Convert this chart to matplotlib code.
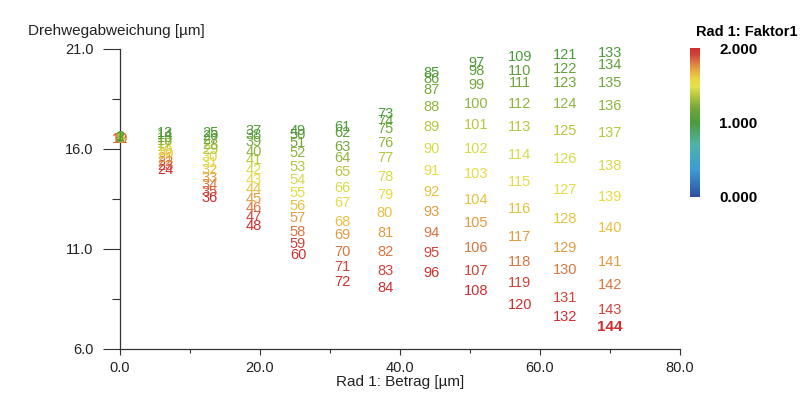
import numpy as np
import matplotlib
matplotlib.use("Agg")
import matplotlib.pyplot as plt
from matplotlib.colors import LinearSegmentedColormap, Normalize
from matplotlib.cm import ScalarMappable

plt.rcParams['font.family'] = ['Liberation Sans', 'DejaVu Sans']

# x position (Rad 1: Betrag) of each column of 12 points
col_x = [0.0, 6.43, 12.86, 19.14, 25.43, 31.71, 37.86, 44.57, 50.86, 57.14, 63.57, 70.0]

# Drehwegabweichung per column, top (first number) to bottom
col_y = [
    [16.60, 16.58, 16.57, 16.56, 16.55, 16.55, 16.54, 16.53, 16.52, 16.52, 16.51, 16.50],
    [16.80, 16.70, 16.55, 16.40, 16.25, 16.10, 15.90, 15.75, 15.55, 15.35, 15.15, 14.95],
    [16.80, 16.65, 16.45, 16.20, 15.95, 15.60, 15.30, 14.95, 14.55, 14.20, 13.85, 13.55],
    [16.90, 16.70, 16.35, 15.85, 15.45, 14.95, 14.45, 14.00, 13.50, 13.05, 12.60, 12.15],
    [16.90, 16.70, 16.30, 15.80, 15.10, 14.45, 13.80, 13.15, 12.55, 11.85, 11.25, 10.70],
    [17.10, 16.80, 16.10, 15.55, 14.85, 14.05, 13.30, 12.35, 11.70, 10.85, 10.10, 9.35],
    [17.75, 17.40, 17.00, 16.30, 15.55, 14.60, 13.70, 12.80, 11.80, 10.85, 9.90, 9.05],
    [19.80, 19.50, 18.95, 18.10, 17.10, 16.00, 14.90, 13.85, 12.85, 11.80, 10.80, 9.80],
    [20.30, 19.90, 19.20, 18.25, 17.20, 16.00, 14.75, 13.45, 12.30, 11.05, 9.90, 8.90],
    [20.60, 19.90, 19.30, 18.25, 17.10, 15.70, 14.35, 13.00, 11.60, 10.35, 9.30, 8.20],
    [20.70, 20.00, 19.30, 18.25, 16.90, 15.50, 13.95, 12.50, 11.05, 9.95, 8.55, 7.60],
    [20.80, 20.20, 19.30, 18.15, 16.80, 15.15, 13.60, 12.05, 10.35, 9.20, 7.95, 7.10],
]

# Faktor1 (colour) by position within a column
row_faktor = [1.00, 1.09, 1.18, 1.27, 1.36, 1.45, 1.55, 1.64, 1.73, 1.82, 1.91, 2.00]

cb_ticks = [0.0, 1.0, 2.0]
y_ticks = [6.0, 11.0, 16.0, 21.0]
x_ticks = [0.0, 20.0, 40.0, 60.0, 80.0]

cmap = LinearSegmentedColormap.from_list("faktor", [
    (0.00, "#2f4f9e"),
    (0.18, "#3b9ad6"),
    (0.35, "#4fb3a8"),
    (0.50, "#4c9a3c"),
    (0.60, "#74a83a"),
    (0.68, "#b4c640"),
    (0.74, "#e2e24c"),
    (0.79, "#ead842"),
    (0.85, "#e6aa40"),
    (0.91, "#da7440"),
    (0.96, "#d04038"),
    (1.00, "#cf2e2e"),
])
norm = Normalize(0, 2)

fig = plt.figure(figsize=(8, 4.18), dpi=100)
ax = fig.add_axes([120/800, 69/418, 560/800, 300/418])

# drawn from last to first so that lower numbers lie on top
labels = []
n = 1
for cx, ys in zip(col_x, col_y):
    for yv, f in zip(ys, row_faktor):
        labels.append((n, cx, yv, f))
        n += 1
for n, cx, yv, f in reversed(labels):
    c = cmap(norm(f))
    if n == 144:
        ax.text(cx, yv, str(n), color=c, ha='center', va='center',
                fontsize=11, fontweight='bold')
    else:
        ax.text(cx, yv, str(n), color=c, ha='center', va='center',
                fontsize=10.5)

ax.set_xlim(0, 80)
ax.set_ylim(6, 21)
ax.spines['top'].set_visible(False)
ax.spines['right'].set_visible(False)
for s in ['left', 'bottom']:
    ax.spines[s].set_color('#333333')
    ax.spines[s].set_linewidth(0.9)

ax.set_xticks(x_ticks)
ax.set_xticks([10, 30, 50, 70], minor=True)
ax.set_yticks(y_ticks)
ax.set_yticks([8.5, 13.5, 18.5], minor=True)
ax.set_xticklabels(["%.1f" % v for v in x_ticks])
ax.set_yticklabels(["%.1f" % v for v in y_ticks])
ax.tick_params(axis='x', which='major', length=4.5, width=0.8, pad=4,
               labelsize=10.5, color='#333333', labelcolor='#222222')
ax.tick_params(axis='x', which='minor', length=3, width=0.8, color='#333333')
ax.tick_params(axis='y', which='major', length=12.2, width=0.8, pad=7,
               labelsize=10.5, color='#333333', labelcolor='#222222')
ax.tick_params(axis='y', which='minor', length=5.8, width=0.8, color='#333333')

ax.set_xlabel("Rad 1: Betrag [µm]", fontsize=11, color='#222222', labelpad=0)
fig.text(28/800, 1 - 31/418, "Drehwegabweichung [µm]", fontsize=11,
         color='#222222', ha='left', va='center')

cax = fig.add_axes([690/800, (418-197)/418, 10/800, 149/418])
cb = fig.colorbar(ScalarMappable(norm=norm, cmap=cmap), cax=cax, ticks=cb_ticks)
cb.outline.set_visible(False)
cb.ax.tick_params(length=0, pad=14)
cb.ax.set_yticklabels(["%.3f" % v for v in cb_ticks], fontsize=11, fontweight='bold')
fig.text(797/800, 1 - 32/418, "Rad 1: Faktor1", fontsize=10.5, fontweight='bold',
         ha='right', va='center')

fig.savefig("out.png", dpi=100)
